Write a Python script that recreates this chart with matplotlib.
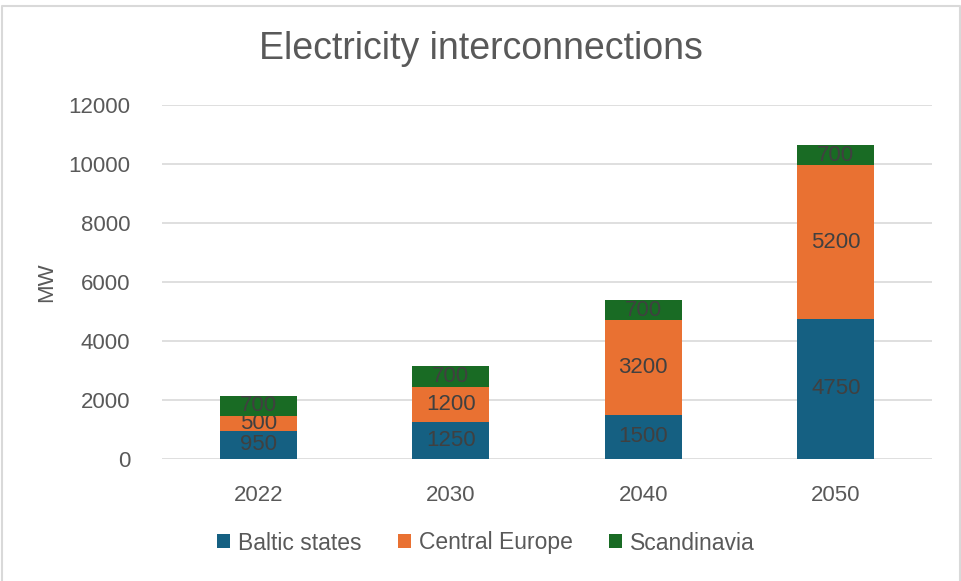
import matplotlib.pyplot as plt
import numpy as np
from matplotlib.lines import Line2D

# stacked interconnection capacity per year (MW)
years = ['2022', '2030', '2040', '2050']
baltic = [950, 1250, 1500, 4750]
central = [500, 1200, 3200, 5200]
scandinavia = [700, 700, 700, 700]
series_names = ['Baltic states', 'Central Europe', 'Scandinavia']
colors = ['#156082', '#E97132', '#196B24']

plt.rcParams['font.family'] = ['Liberation Sans', 'DejaVu Sans']

W, H = 961, 581
fig = plt.figure(figsize=(W / 100, H / 100), dpi=100)
ax = fig.add_axes([162 / W, 1 - 459 / H, 770 / W, 354 / H])

x = np.arange(len(years))
bottom = np.zeros(len(years))
for name, vals, c in zip(series_names, [baltic, central, scandinavia], colors):
    bars = ax.bar(x, vals, width=0.4, bottom=bottom, color=c, label=name, zorder=3)
    ax.bar_label(bars, labels=[str(v) for v in vals], label_type='center',
                 color='#404040', fontsize=16)
    bottom += np.array(vals)

ax.set_xlim(-0.5, len(years) - 0.5)
ax.set_ylim(0, 12000)
ax.set_yticks(range(0, 12001, 2000))
ax.set_xticks(x)
ax.set_xticklabels(years)
ax.yaxis.grid(True, color='#d9d9d9', linewidth=1.2, zorder=0)
for s in ax.spines.values():
    s.set_visible(False)
ax.tick_params(length=0, labelsize=16, colors='#595959')
ax.tick_params(axis='y', pad=23)
ax.tick_params(axis='x', pad=19)
ax.set_ylabel('MW', fontsize=16, color='#595959', labelpad=8)

fig.text(481 / W, 1 - 49 / H, 'Electricity interconnections', ha='center',
         va='center', fontsize=27, color='#595959')

ax.legend(loc='center', bbox_to_anchor=(486 / W, 1 - 543 / H),
          bbox_transform=fig.transFigure, ncol=3, frameon=False,
          fontsize=16.5, labelcolor='#595959', handlelength=0.55, handleheight=0.55,
          handletextpad=0.35, columnspacing=1.6)

# light frame round the chart area (open at the bottom)
fx = [1.5 / W, 1.5 / W, 959.5 / W, 959.5 / W]
fy = [0.0, 1 - 6 / H, 1 - 6 / H, 0.0]
fig.add_artist(Line2D(fx, fy, transform=fig.transFigure, color='#d9d9d9',
                      linewidth=1.5))

fig.savefig('out.png', dpi=100)
